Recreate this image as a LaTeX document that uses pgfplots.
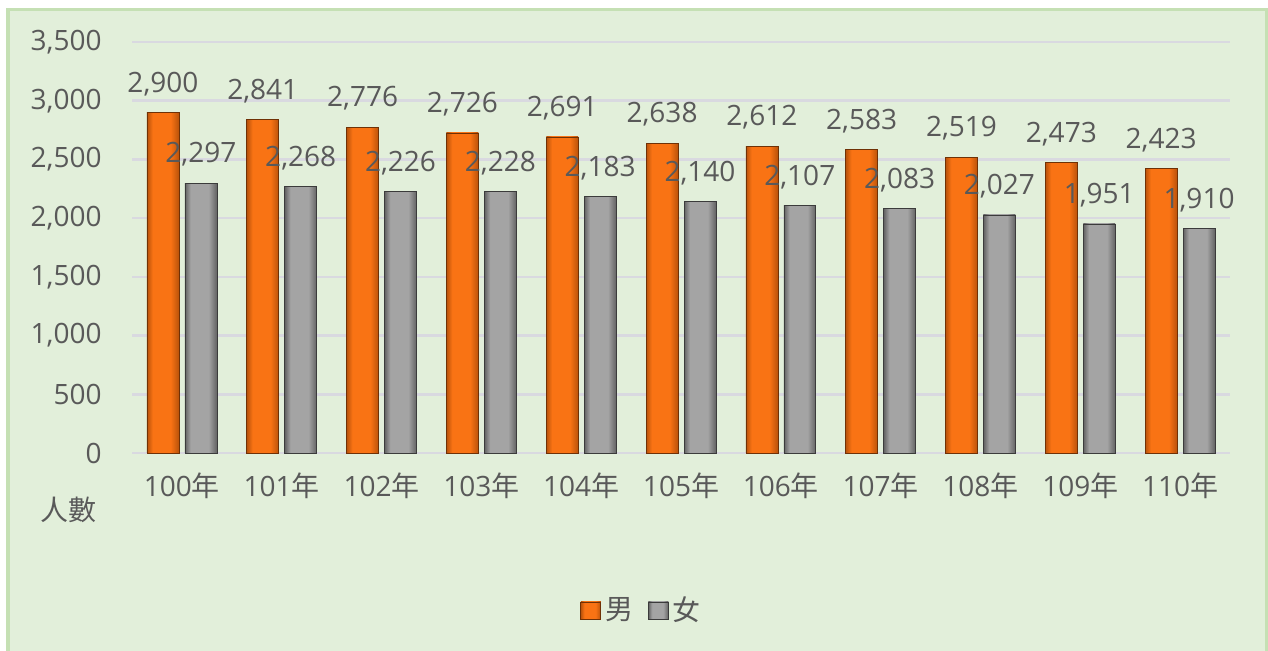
\documentclass[border=0pt]{standalone}
\usepackage{fontspec}
\setmainfont{Open Sans}
\newfontfamily\cjk{Noto Sans CJK TC}
\usepackage{pgfplots}
\usepackage{pgfplotstable}
\pgfplotsset{compat=1.18}
\definecolor{bg}{HTML}{E2EFDA}
\definecolor{frame}{HTML}{C5E0B4}
\definecolor{txt}{HTML}{595959}
\definecolor{gridc}{HTML}{D9D9E0}
\definecolor{orE}{HTML}{B9520A}
\definecolor{orM}{HTML}{F97314}
\definecolor{grE}{HTML}{636363}
\definecolor{grM}{HTML}{A4A4A4}
\pgfdeclarehorizontalshading{orbar}{100bp}{color(0bp)=(orE); color(25bp)=(orE); color(34bp)=(orM); color(62bp)=(orM); color(75bp)=(orE); color(100bp)=(orE)}
\pgfdeclarehorizontalshading{grbar}{100bp}{color(0bp)=(grE); color(25bp)=(grE); color(34bp)=(grM); color(62bp)=(grM); color(75bp)=(grE); color(100bp)=(grE)}
\pgfplotstableread{
x m f
0 2900 2297
1 2841 2268
2 2776 2226
3 2726 2228
4 2691 2183
5 2638 2140
6 2612 2107
7 2583 2083
8 2519 2027
9 2473 1951
10 2423 1910
}\data
\begin{document}
\begin{tikzpicture}
\useasboundingbox (0,0) rectangle (634pt,325.5pt);
\fill[white] (0,0) rectangle (634pt,325.5pt);
\draw[frame, line width=1.6pt, fill=bg] (4pt,-5pt) rectangle (633.5pt,320.75pt);
\begin{axis}[
  at={(66pt,99pt)}, anchor=south west,
  scale only axis, width=549pt, height=205.5pt,
  xmin=-0.5, xmax=10.5, ymin=0, ymax=3500,
  ytick={0,500,...,3500}, xtick={0,...,10},
  xticklabels={100{\cjk 年},101{\cjk 年},102{\cjk 年},103{\cjk 年},104{\cjk 年},105{\cjk 年},106{\cjk 年},107{\cjk 年},108{\cjk 年},109{\cjk 年},110{\cjk 年}},
  axis line style={draw=none}, major tick length=0pt,
  ymajorgrids, grid style={gridc, line width=1.3pt},
  ybar, bar width=0.32,
  font=\fontsize{14}{17}\selectfont,
  ticklabel style={text=txt, font=\fontsize{14}{17}\selectfont},
  yticklabel style={anchor=east, inner sep=0pt, xshift=-15pt},
  xticklabel style={anchor=base, inner sep=0pt, yshift=-22pt},
  /pgf/number format/1000 sep={,},
  /pgf/number format/assume math mode=true,
  scaled y ticks=false,
  nodes near coords,
  every node near coord/.append style={anchor=south, yshift=8.2pt, text=txt, inner sep=0pt, font=\fontsize{14}{17}\selectfont, /pgf/number format/1000 sep={,}, /pgf/number format/assume math mode=true},
  clip=false,
  legend style={at={(0.465,-0.383)}, anchor=center, draw=none, fill=none, legend columns=2, text=txt, font=\fontsize{14}{17}\selectfont, /tikz/every even column/.append style={column sep=5.5pt}},
  legend image code/.code={\path[#1] (0pt,-4.25pt) rectangle (10pt,4.25pt);},
]
\addlegendimage{shade, shading=orbar, draw=orE!60!black, line width=0.3pt}
\addlegendentry{\cjk 男}
\addlegendimage{shade, shading=grbar, draw=grE!60!black, line width=0.3pt}
\addlegendentry{\cjk 女}
\pgfplotsinvokeforeach{0,1,2,3,4,5,6,7,8,9,10}{
\addplot[forget plot, bar shift=-0.19, draw=orE!60!black, line width=0.3pt, shade, shading=orbar]
  table[x=x, y=m, restrict x to domain=#1:#1] {\data};
}
\pgfplotsinvokeforeach{0,1,2,3,4,5,6,7,8,9,10}{
\addplot[forget plot, bar shift=0.19, draw=grE!60!black, line width=0.3pt, shade, shading=grbar]
  table[x=x, y=f, restrict x to domain=#1:#1] {\data};
}
\node[text=txt, font=\fontsize{14}{17}\selectfont] at (rel axis cs:-0.0574,-0.1387) {\cjk 人數};
\end{axis}
\end{tikzpicture}
\end{document}
